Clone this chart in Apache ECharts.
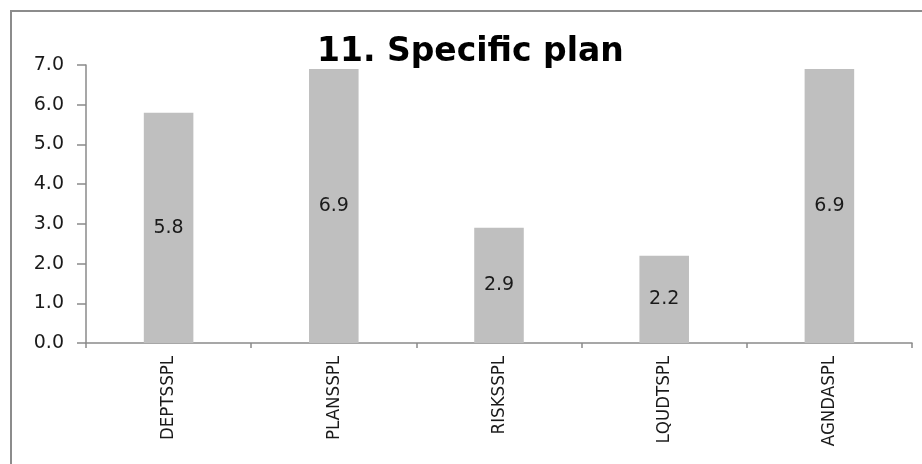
<!DOCTYPE html>
<html>
<head>
<meta charset="utf-8">
<script src="https://cdn.jsdelivr.net/npm/echarts@6/dist/echarts.min.js"></script>
<style>
  html, body { margin: 0; padding: 0; background: #ffffff; overflow: hidden; width: 922px; height: 464px; }
  #chart { position: absolute; left: 0; top: 0; width: 922px; height: 464px; }
</style>
</head>
<body>
<div id="chart"></div>
<script>
// Mean scores for the specific-plan items
const categories = ['DEPTSSPL', 'PLANSSPL', 'RISKSSPL', 'LQUDTSPL', 'AGNDASPL'];
const scores = [5.8, 6.9, 2.9, 2.2, 6.9];
const yTicks = { min: 0, max: 7, interval: 1 };
const chartTitle = '11. Specific plan';

const axisGray = '#8a8a8a';
const frameGray = '#8c8c8c';
const textColor = '#1a1a1a';

const chart = echarts.init(document.getElementById('chart'), null, { renderer: 'canvas' });

chart.setOption({
  animation: false,
  backgroundColor: '#ffffff',
  // chart-area outline along the top and left edges
  graphic: [
    { type: 'line', shape: { x1: 11, y1: 11, x2: 922, y2: 11 }, style: { stroke: frameGray, lineWidth: 2 }, silent: true },
    { type: 'line', shape: { x1: 11, y1: 10, x2: 11, y2: 464 }, style: { stroke: frameGray, lineWidth: 2 }, silent: true }
  ],
  title: {
    text: chartTitle,
    left: 317,
    top: 36,
    padding: 0,
    textStyle: {
      fontFamily: 'DejaVu Sans',
      fontWeight: 'bold',
      fontSize: 33,
      color: '#000000'
    }
  },
  grid: { left: 86, right: 10, top: 65, bottom: 121, containLabel: false },
  xAxis: {
    type: 'category',
    data: categories,
    boundaryGap: true,
    axisLine: { lineStyle: { color: axisGray, width: 1.5 } },
    axisTick: { show: true, length: 5, alignWithLabel: false, lineStyle: { color: axisGray, width: 1.5 } },
    axisLabel: {
      rotate: 90,
      interval: 0,
      margin: 13,
      fontFamily: 'DejaVu Sans Condensed',
      fontSize: 18.5,
      color: textColor
    },
    splitLine: { show: false }
  },
  yAxis: {
    type: 'value',
    min: yTicks.min,
    max: yTicks.max,
    interval: yTicks.interval,
    axisLine: { show: true, lineStyle: { color: axisGray, width: 1.5 } },
    axisTick: { show: true, length: 9, lineStyle: { color: axisGray, width: 1.5 } },
    axisLabel: {
      margin: 22,
      fontFamily: 'DejaVu Sans',
      fontSize: 19,
      color: textColor,
      formatter: v => v.toFixed(1)
    },
    splitLine: { show: false }
  },
  series: [{
    type: 'bar',
    data: scores,
    barWidth: '30%',
    itemStyle: { color: '#bfbfbf' },
    label: {
      show: true,
      position: 'inside',
      fontFamily: 'DejaVu Sans',
      fontSize: 19,
      color: textColor,
      formatter: p => p.value.toFixed(1)
    }
  }]
});
</script>
</body>
</html>
